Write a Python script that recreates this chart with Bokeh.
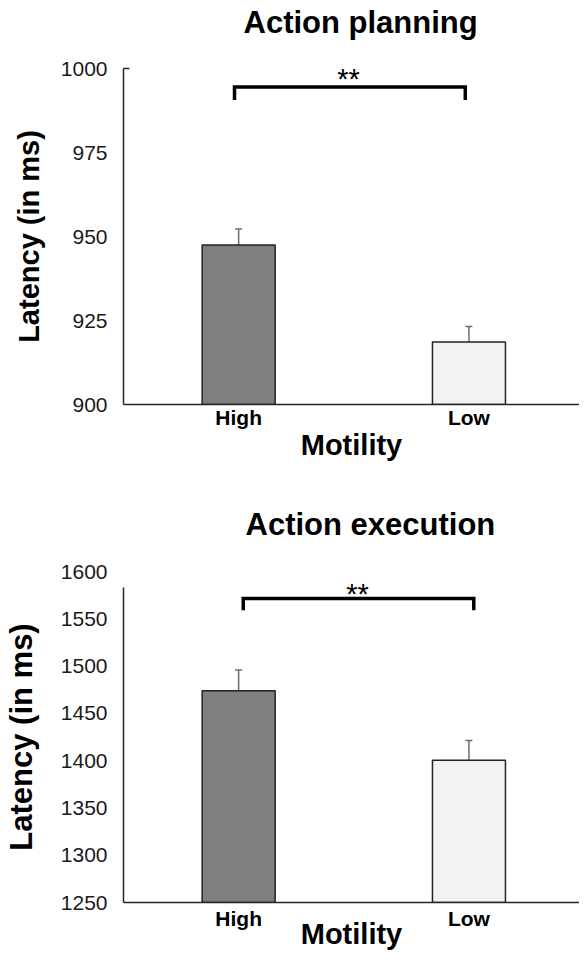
from bokeh.plotting import figure
from bokeh.layouts import column
from bokeh.models import (Range1d, FixedTicker, LinearAxis, Whisker,
                          ColumnDataSource, TeeHead, Label, Title)
from bokeh.embed import file_html
from bokeh.resources import INLINE

FONT = "Liberation Sans"

# ---------------- data ----------------
categories = ["High", "Low"]
cat_pos = [0.5, 1.5]
bar_colors = ["#7f7f7f", "#f2f2f2"]
x_label = "Motility"
y_label = "Latency (in ms)"

plan_title = "Action planning"
plan_means = [947.5, 918.6]
plan_err = [4.7, 4.65]
plan_ticks = [900, 925, 950, 975, 1000]
plan_bracket_x = [0.482, 0.482, 1.484, 1.484]
plan_bracket_y = [990.6, 994.5, 994.5, 990.6]
plan_stars = "**"
plan_star_xy = (0.977, 997.0)

exec_title = "Action execution"
exec_means = [1473.8, 1400.4]
exec_err = [22.0, 21.0]
exec_ticks = [1250, 1300, 1350, 1400, 1450, 1500, 1550, 1600]
exec_axis_top = 1583.5
exec_bracket_x = [0.52, 0.52, 1.521, 1.521]
exec_bracket_y = [1559.0, 1571.5, 1571.5, 1559.0]
exec_stars = "**"
exec_star_xy = (1.016, 1576.0)


def make_panel(title, means, errs, ticks, axis_top, top_tick,
               bx, by, stars, star_xy,
               height, b_top, b_bottom, t_offset, spacer,
               ylab_size, ylab_standoff, xtick_standoff, xlab_standoff):
    y0, y1 = ticks[0], ticks[-1]
    p = figure(width=579, height=height, output_backend="svg",
               toolbar_location=None, title=None,
               x_range=Range1d(0, 1.98),
               y_range=Range1d(y0, y1), x_axis_location="below",
               y_axis_location=None,
               min_border_left=115, min_border_right=0,
               min_border_top=b_top, min_border_bottom=b_bottom)
    p.outline_line_color = None
    p.grid.visible = False
    p.background_fill_color = "white"

    # spacer (closest to the frame) then the visible title
    p.add_layout(Title(text=" ", text_font_size="1px", standoff=spacer,
                       text_color="white"), "above")
    p.add_layout(Title(text=title, align="left", offset=t_offset, standoff=0,
                       text_font=FONT, text_font_size="31px",
                       text_font_style="bold", text_color="black"), "above")

    # axis line only (closest to frame)
    line_ticks = [top_tick] if top_tick is not None else []
    line_axis = LinearAxis(bounds=(y0, axis_top),
                           ticker=FixedTicker(ticks=line_ticks),
                           major_label_overrides={t: "" for t in line_ticks},
                           major_tick_out=0, major_tick_in=6,
                           major_tick_line_width=1.5,
                           major_tick_line_color="#262626",
                           minor_tick_out=0, minor_tick_in=0,
                           major_label_standoff=0,
                           major_label_text_font_size="1px",
                           axis_line_color="#262626", axis_line_width=1.5)
    p.add_layout(line_axis, "left")
    # labelled axis
    lab_axis = LinearAxis(ticker=FixedTicker(ticks=ticks),
                          axis_line_color=None,
                          major_tick_out=0, major_tick_in=0,
                          minor_tick_out=0, minor_tick_in=0,
                          major_label_standoff=16,
                          major_label_text_font=FONT,
                          major_label_text_font_size="21px",
                          major_label_text_color="#1a1a1a",
                          axis_label=y_label,
                          axis_label_text_font=FONT,
                          axis_label_text_font_size=ylab_size,
                          axis_label_text_font_style="bold",
                          axis_label_text_color="black",
                          axis_label_standoff=ylab_standoff)
    p.add_layout(lab_axis, "left")

    xa = p.xaxis[0]
    xa.ticker = FixedTicker(ticks=cat_pos)
    xa.major_label_overrides = {cat_pos[i]: categories[i] for i in range(len(categories))}
    xa.major_tick_out = 0
    xa.major_tick_in = 0
    xa.minor_tick_out = 0
    xa.minor_tick_in = 0
    xa.axis_line_color = "#262626"
    xa.axis_line_width = 1.5
    xa.major_label_standoff = xtick_standoff
    xa.major_label_text_font = FONT
    xa.major_label_text_font_size = "21px"
    xa.major_label_text_font_style = "bold"
    xa.major_label_text_color = "black"
    xa.axis_label = x_label
    xa.axis_label_text_font = FONT
    xa.axis_label_text_font_size = "29px"
    xa.axis_label_text_font_style = "bold"
    xa.axis_label_text_color = "black"
    xa.axis_label_standoff = xlab_standoff

    src = ColumnDataSource(dict(
        x=cat_pos, top=means, color=bar_colors,
        upper=[m + e for m, e in zip(means, errs)],
        lower=[m - e for m, e in zip(means, errs)]))
    p.vbar(x="x", top="top", bottom=y0, width=0.317, source=src,
           fill_color="color", line_color="#222222", line_width=1.5)
    w = Whisker(base="x", upper="upper", lower="lower", source=src,
                line_color="#6e6e6e", line_width=1.5,
                upper_head=TeeHead(size=7, line_color="#6e6e6e", line_width=1.5),
                lower_head=TeeHead(size=7, line_color="#6e6e6e", line_width=1.5))
    p.add_layout(w)

    p.line(x=bx, y=by, line_color="black", line_width=3.5,
           line_join="miter")
    p.add_layout(Label(x=star_xy[0], y=star_xy[1], text=stars,
                       text_font=FONT, text_font_size="29px",
                       text_align="center", text_baseline="middle",
                       text_color="black"))
    return p


p1 = make_panel(plan_title, plan_means, plan_err, plan_ticks,
                1000, 1000, plan_bracket_x, plan_bracket_y,
                plan_stars, plan_star_xy,
                height=464, b_top=68, b_bottom=60, t_offset=120,
                spacer=26, ylab_size="29px", ylab_standoff=13,
                xtick_standoff=1, xlab_standoff=-3)
p2 = make_panel(exec_title, exec_means, exec_err, exec_ticks,
                exec_axis_top, None, exec_bracket_x, exec_bracket_y,
                exec_stars, exec_star_xy,
                height=488, b_top=107, b_bottom=45, t_offset=122,
                spacer=27, ylab_size="31px", ylab_standoff=19,
                xtick_standoff=4, xlab_standoff=-15)

layout = column(p1, p2, spacing=0)
open("out.html", "w").write(file_html(layout, INLINE))
